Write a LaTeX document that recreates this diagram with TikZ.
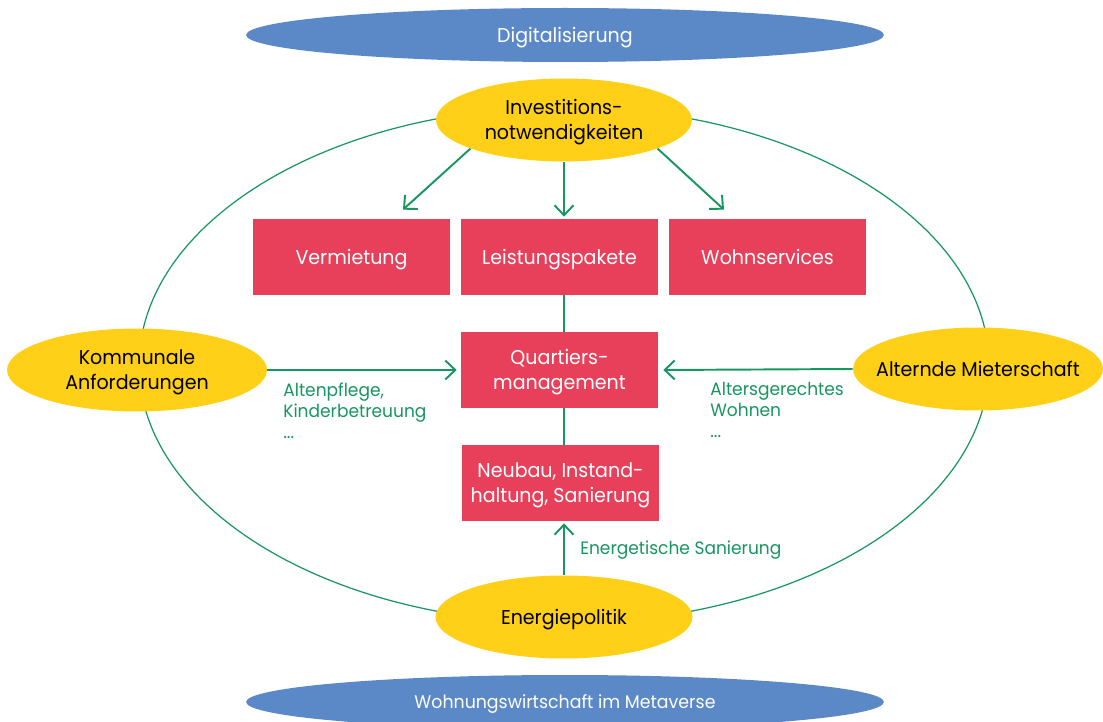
\documentclass[tikz,border=0pt]{standalone}
\usepackage{fontspec}
\setmainfont{Poppins}[FakeStretch=0.95]
\usetikzlibrary{shapes.geometric,arrows.meta,calc}
\definecolor{ringgreen}{RGB}{22,150,96}
\definecolor{blueell}{RGB}{91,137,200}
\definecolor{yellowell}{RGB}{255,208,23}
\definecolor{redbox}{RGB}{232,64,90}
\tikzset{
  mainfont/.style={font=\fontsize{11.4}{13.7}\selectfont,text height=8pt,text depth=0pt},
  twoline/.style={text height=21.7pt,text depth=0pt},
  blueoval/.style={ellipse,fill=blueell,draw=none,inner sep=0pt,minimum width=12.76cm,minimum height=1.08cm,text=white},
  yellowoval/.style={ellipse,fill=yellowell,draw=none,inner sep=0pt,minimum height=1.66cm,text=black,align=center,mainfont},
  redrect/.style={rectangle,fill=redbox,draw=none,inner sep=0pt,minimum width=3.94cm,minimum height=1.52cm,text=white,align=center,mainfont},
  arr/.style={draw=ringgreen,line width=1.1pt,-{Straight Barb[length=2mm,width=3.8mm]}},
  conn/.style={draw=ringgreen,line width=1.1pt},
  greenlbl/.style={text=ringgreen,align=left,inner sep=0pt,font=\fontsize{10.2}{12}\selectfont},
}
\begin{document}
\begin{tikzpicture}[x=0.02cm,y=-0.02cm]
\useasboundingbox (0,0) rectangle (1103,722);
\clip (0,0) rectangle (1103,722);
% big ring
\draw[ringgreen,line width=0.7pt] (564,365) ellipse [x radius=8.5cm, y radius=5.16cm];
% blue ovals
\node[blueoval,font=\fontsize{11.4}{13}\selectfont,text height=8pt,text depth=0pt] (dig) at (565,35) {Digitalisierung};
\node[blueoval,font=\fontsize{10.4}{12}\selectfont,text height=7.3pt,text depth=0pt] (meta) at (565,702) {Wohnungswirtschaft im Metaverse};
% yellow ovals
\node[yellowoval,twoline,minimum width=5.12cm] (inv) at (564,120) {Investitions-\\notwendigkeiten};
\node[yellowoval,twoline,minimum width=5.2cm] (kom) at (137,370) {Kommunale\\Anforderungen};
\node[yellowoval,minimum width=5.0cm] (alt) at (978,369) {\makebox[0pt][c]{Alternde Mieterschaft}};
\node[yellowoval,minimum width=5.14cm] (ene) at (564,617) {Energiepolitik};
% red boxes
\node[redrect] (verm) at (351.5,257) {Vermietung};
\node[redrect] (leist) at (559.5,257) {Leistungspakete};
\node[redrect] (wohn) at (767.5,257) {Wohnservices};
\node[redrect,twoline] (quart) at (559.5,370) {Quartiers-\\management};
\node[redrect,twoline] (neu) at (560.5,483) {Neubau, Instand-\\haltung, Sanierung};
% connectors
\draw[arr] (inv.197) -- ([xshift=1.03cm,yshift=0.18cm]verm.north);
\draw[arr] (inv.south) -- ([yshift=0.04cm]inv.south |- leist.north);
\draw[arr] (inv.-17) -- ([xshift=-0.87cm,yshift=0.18cm]wohn.north);
\draw[arr] (kom.east) -- ([xshift=-0.08cm]quart.west);
\draw[arr] (alt.west) -- ([xshift=0.1cm]quart.east);
\draw[conn] (inv.south |- leist.south) -- (inv.south |- quart.north);
\draw[conn] (inv.south |- quart.south) -- (inv.south |- neu.north);
\draw[arr] (ene.north) -- ([yshift=-0.04cm]ene.north |- neu.south);
% labels
\node[greenlbl,anchor=north west] (lk) at (283,382) {Altenpflege,\\Kinderbetreuung\\...};
\node[greenlbl,anchor=north west] (la) at (710,382) {Altersgerechtes\\Wohnen\\...};
\node[greenlbl,anchor=west] (le) at (580,550) {Energetische Sanierung};
\end{tikzpicture}
\end{document}
